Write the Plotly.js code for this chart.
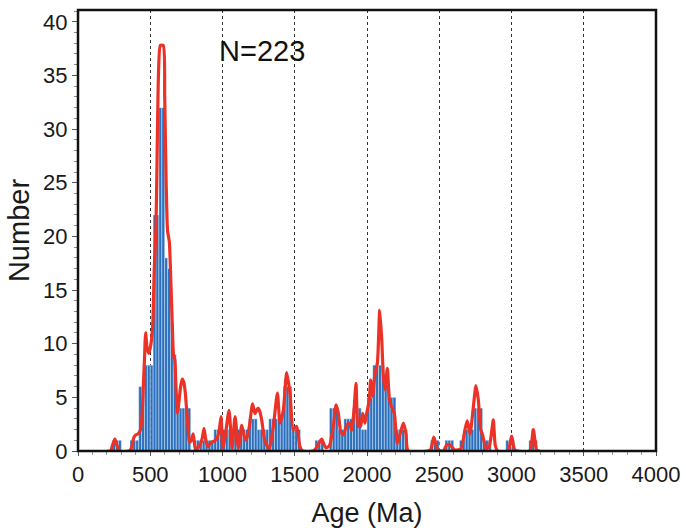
<!DOCTYPE html>
<html>
<head>
<meta charset="utf-8">
<script src="https://cdn.plot.ly/plotly-3.0.1.min.js"></script>
<style>html,body{margin:0;padding:0;background:#fff;}#chart{width:686px;height:528px;}</style>
</head>
<body>
<div id="chart"></div>
<script>
// Histogram bins (start age, Ma) and counts
var binStart = [240,260,280, 360,380,400, 420,440, 460,480,500, 520,540, 560,580, 600,620,640,660,
  680,700,720,740,760, 800,820,840,860,880,900,920,
  940,960,980,1000,1020,1040,1060,1080,1100,1120,1140,1160,
  1180,1200,1220, 1240,1260,1280,1300, 1320,1340,1360,1380,1400, 1420,1440,1460, 1480,1500,1520,
  1640,1660,1680, 1740,1760,1780, 1800,1820, 1840,1860,1880, 1900,1920,1940, 1960,1980, 2000,2020,
  2040,2060,2080,2100, 2120,2140, 2160,2180, 2200,2220,2240,2260,
  2440,2460,2480, 2540,2560,2580, 2640,2660, 2680,2700,2720, 2740,2760,2780, 2800,2820,2840,
  2960,2980,3000, 3120,3140,3160];
var binCount = [1,1,1, 1,1,1, 6,6, 8,8,8, 22,22, 32,32, 18,17,12,9,
  4,4,4,4,4, 1,1,1,1,1,1,1,
  2,2,2,2,2,2,2,2,2,2,2,2,
  3,3,3, 2,2,2,2, 3,3,3,3,3, 6,6,6, 2,2,2,
  1,1,1, 4,4,4, 2,2, 3,3,3, 4,4,4, 2,2, 5,5,
  8,8,8,8, 6,6, 5,5, 2,2,2,2,
  1,1,1, 1,1,1, 1,1, 2,2,2, 4,4,4, 1,1,1,
  1,1,1, 1,1,1];

// Probability density curve (scaled to the count axis)
var curveAge = [200,225,240,255,270,290,355,370,385,400,415,430,442,452,460,468,478,490,500,510,518,528,540,550,558,570,590,600,610,620,632,642,652,662,670,678,688,698,710,722,732,742,752,762,772,785,797,810,825,845,860,872,885,900,920,940,962,978,990,1002,1020,1045,1066,1087,1110,1133,1150,1165,1185,1208,1225,1245,1255,1271,1294,1324,1352,1380,1398,1421,1444,1467,1490,1513,1536,1555,1630,1650,1686,1715,1740,1767,1786,1802,1818,1836,1859,1878,1894,1910,1924,1940,1955,1970,1986,1998,2016,2025,2039,2055,2072,2088,2102,2113,2125,2141,2155,2171,2189,2210,2229,2252,2270,2285,2420,2440,2462,2490,2528,2551,2574,2609,2650,2678,2694,2713,2736,2754,2770,2787,2800,2824,2845,2860,2874,2888,2905,2975,3001,3024,3125,3151,3174,3195];
var curveValue = [0,0,0.6,1.1,0.5,0,0,0.3,1.2,1.5,1.6,1.9,3,6,8.5,11,9.6,9.1,9.6,10.5,12,17,21,30,35.6,37.8,37.8,33,25,20.5,19.5,16,12,8.8,8.5,6,3.5,4.5,6,6.7,6.4,5.5,3.8,2,0.8,1.0,1.6,0.4,0.2,0.6,1.2,2.1,1.0,0.4,0.8,0.9,1.2,2.0,3.2,0.2,1.5,3.8,0.3,3.2,0.3,2.4,1.4,1.0,2.2,4.4,3.5,4.0,3.8,2.9,0.9,0.2,2.3,5.4,2.6,3.8,7.3,5.4,2.0,2.3,0.4,0,0,0.3,1.1,0.3,0.5,2.3,4.3,3.5,1.8,1.5,2.4,2.6,1.9,3.8,6.3,2.3,2.3,3.5,2.6,3.5,4.8,6.6,5.1,7.2,8.2,13.1,10.4,7.0,5.7,7.7,4.8,4.1,3.5,0.7,1.6,2.6,1.6,0,0,0.1,1.3,0.1,0,0.56,0.56,0.1,0.2,2.0,2.8,1.6,4.1,6.1,4.8,2.0,1.5,0.25,0.4,1.5,2.9,0.5,0,0,1.4,0.1,0,2.0,0.1,0];

var xTicks = [0,500,1000,1500,2000,2500,3000,3500,4000];
var yTicks = [0,5,10,15,20,25,30,35,40];
var sampleLabel = 'N=223';

var font = 'Liberation Sans, Arial, sans-serif';

var traces = [
  {
    type: 'bar', x: binStart, y: binCount, width: 20, offset: 0,
    marker: {color: '#2b70be', line: {color: 'rgba(255,255,255,0.85)', width: 0.45}},
    hoverinfo: 'x+y', showlegend: false
  },
  {
    type: 'scatter', mode: 'lines', x: curveAge, y: curveValue,
    line: {color: '#ec3127', width: 3.2, shape: 'spline', smoothing: 0.6},
    showlegend: false
  }
];

var layout = {
  width: 686, height: 528,
  margin: {l: 78, r: 30, t: 10, b: 77},
  paper_bgcolor: '#ffffff', plot_bgcolor: '#ffffff',
  font: {family: font, color: '#1a1a1a', size: 22},
  bargap: 0,
  xaxis: {
    range: [0, 4000], tickvals: xTicks, ticktext: xTicks.map(String),
    ticks: 'outside', ticklen: 4, tickcolor: '#555', tickwidth: 1,
    minor: {dtick: 100, tick0: 0, ticks: 'outside', ticklen: 3, tickcolor: '#999', showgrid: false},
    showgrid: true, gridcolor: '#333', griddash: 'dot', gridwidth: 1,
    zeroline: false, showline: false, layer: 'below traces',
    tickfont: {size: 22, family: font},
    title: {text: 'Age (Ma)', font: {size: 27, family: font}, standoff: 20}
  },
  yaxis: {
    range: [0, 41.1], tickvals: yTicks, ticktext: yTicks.map(String),
    ticks: 'outside', ticklen: 5, tickcolor: '#555', tickwidth: 1,
    minor: {dtick: 1, tick0: 0, ticks: 'outside', ticklen: 3, tickcolor: '#888', showgrid: false},
    showgrid: false, zeroline: false, showline: false, layer: 'below traces',
    tickfont: {size: 22, family: font},
    title: {text: 'Number', font: {size: 29, family: font}, standoff: 4}
  },
  shapes: [
    {type: 'rect', xref: 'paper', yref: 'paper', x0: 0, x1: 1, y0: 0, y1: 1,
     line: {color: '#111', width: 2.5}, fillcolor: 'rgba(0,0,0,0)', layer: 'above'}
  ],
  annotations: [
    {text: sampleLabel, xref: 'x', yref: 'y', x: 1270, y: 37.3, showarrow: false,
     font: {size: 29, family: font, color: '#111'}}
  ]
};

Plotly.newPlot('chart', traces, layout, {displayModeBar: false, staticPlot: true});
</script>
</body>
</html>
